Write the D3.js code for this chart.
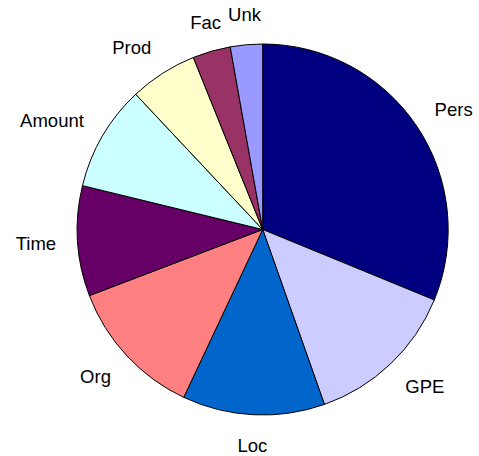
<!DOCTYPE html>
<html><head><meta charset="utf-8">
<script src="https://cdn.jsdelivr.net/npm/d3@7"></script>
<style>html,body{margin:0;padding:0;background:#fff;}svg{display:block;}</style>
</head><body>
<svg id="chart" width="479" height="456"></svg>
<script>
const categories = ["Pers","GPE","Loc","Org","Time","Amount","Prod","Fac","Unk"];
const values = [31.2, 13.4, 12.4, 12.2, 9.6, 9.2, 5.9, 3.3, 2.8];
const colors = ["#000080","#CCCCFF","#0066CC","#FF8080","#660066","#CCFFFF","#FFFFCC","#993366","#9999FF"];

const svg = d3.select("#chart");
const cx = 262.7, cy = 229.5, r = 185.5;
const fs = 18.5;
const labelRX = 207, labelRY = 216;
const data = categories.map((c,i)=>({name:c, value:values[i], color:colors[i]}));
const pie = d3.pie().value(d=>d.value).sort(null);
const arcs = pie(data);
const arc = d3.arc().innerRadius(0).outerRadius(r);
const g = svg.append("g").attr("transform",`translate(${cx},${cy})`);
g.selectAll("path").data(arcs).join("path")
  .attr("d",arc).attr("fill",d=>d.data.color)
  .attr("stroke","#000").attr("stroke-width",1).attr("stroke-linejoin","round");

const capH = 0.716*fs;
g.selectAll("text").data(arcs).join("text")
  .attr("font-family","'Liberation Sans', Arial, sans-serif")
  .attr("font-size",fs).attr("fill","#000").attr("text-anchor","middle")
  .text(d=>d.data.name)
  .each(function(d){
    const w = this.getComputedTextLength();
    const a = (d.startAngle+d.endAngle)/2;
    const s = Math.sin(a), c = Math.cos(a);
    const f = Math.sign(s)*Math.max(0, Math.min(1, (Math.abs(s)-0.3)/0.2));
    const x = labelRX*s + (w/2)*f;
    const y = -labelRY*c;
    d3.select(this).attr("x",x).attr("y",y+capH/2);
  });
</script>
</body></html>
